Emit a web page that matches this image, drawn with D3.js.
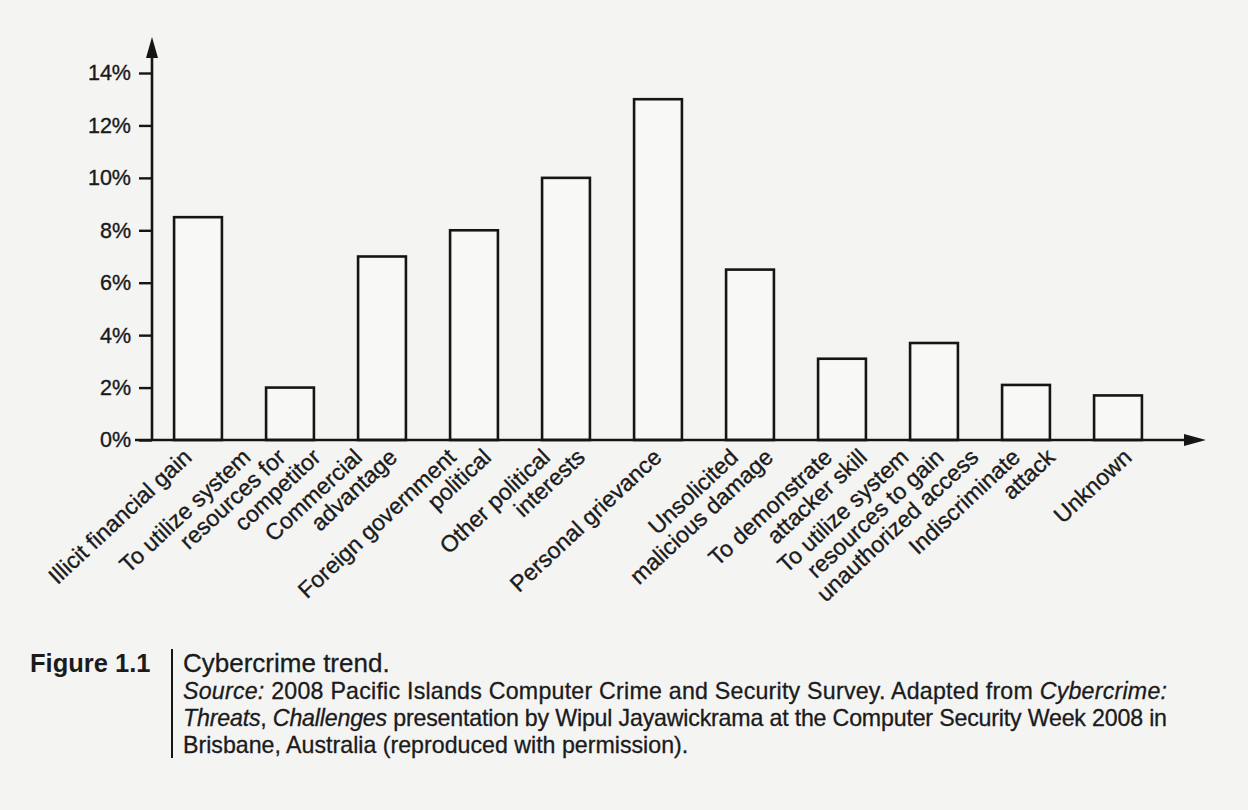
<!DOCTYPE html>
<html>
<head>
<meta charset="utf-8">
<script src="https://cdn.jsdelivr.net/npm/d3@7"></script>
<style>
  html, body { margin: 0; padding: 0; background: #f4f4f3; }
  svg { display: block; }
  text { font-family: "Liberation Sans", Arial, Helvetica, sans-serif; fill: #1b1b1b; }
</style>
</head>
<body>
<svg id="chart"></svg>
<script>
// categories (line breaks as in the figure), percent values, y tick values
const categories = [
  'Illicit financial gain',
  'To utilize system\nresources for\ncompetitor',
  'Commercial\nadvantage',
  'Foreign government\npolitical',
  'Other political\ninterests',
  'Personal grievance',
  'Unsolicited\nmalicious damage',
  'To demonstrate\nattacker skill',
  'To utilize system\nresources to gain\nunauthorized access',
  'Indiscriminate\nattack',
  'Unknown'
];
const values = [8.5, 2.0, 7.0, 8.0, 10.0, 13.0, 6.5, 3.1, 3.7, 2.1, 1.7];
const yTicks = [0, 2, 4, 6, 8, 10, 12, 14];

const W = 1248, H = 810;
const axisX = 152, axisY = 440;
const ink = '#151515';

const svg = d3.select('#chart').attr('width', W).attr('height', H);

svg.append('rect').attr('width', W).attr('height', H).attr('fill', '#f4f4f3');

const x = d3.scaleBand()
  .domain(categories)
  .range([axisX, 1164])
  .paddingInner(0.48)
  .paddingOuter(0.24);

const y = d3.scaleLinear()
  .domain([0, 14])
  .range([axisY, 73]);

// where the rotated labels sit (they drift a little right of the bars in the figure)
const labelX = d3.scalePoint()
  .domain(categories)
  .range([193, 1133]);

// bars
svg.append('g')
  .selectAll('rect')
  .data(values)
  .join('rect')
  .attr('x', (d, i) => x(categories[i]))
  .attr('y', d => y(d))
  .attr('width', x.bandwidth())
  .attr('height', d => axisY - y(d))
  .attr('fill', '#f8f8f7')
  .attr('stroke', ink)
  .attr('stroke-width', 2.6);

// y axis with ticks on the left
const yAxis = d3.axisLeft(y)
  .tickValues(yTicks)
  .tickFormat(d => d + '%')
  .tickSize(13)
  .tickPadding(8);

const gy = svg.append('g')
  .attr('transform', `translate(${axisX},0)`)
  .call(yAxis);
gy.select('.domain').remove();
gy.selectAll('.tick line').attr('stroke', ink).attr('stroke-width', 2.4);
gy.selectAll('.tick text')
  .attr('font-size', 21.5)
  .attr('fill', ink)
  .attr('stroke', ink)
  .attr('stroke-width', 0.35)
  .style('font-family', '"Liberation Sans", Arial, sans-serif');

// axis lines with arrow heads
svg.append('line')
  .attr('x1', axisX).attr('x2', axisX)
  .attr('y1', axisY).attr('y2', 52)
  .attr('stroke', ink).attr('stroke-width', 2.6);
svg.append('path')
  .attr('d', `M${axisX},37 L${axisX - 6},58 L${axisX + 6},58 Z`)
  .attr('fill', ink);

svg.append('line')
  .attr('x1', 135).attr('x2', 1190)
  .attr('y1', axisY).attr('y2', axisY)
  .attr('stroke', ink).attr('stroke-width', 2.6);
svg.append('path')
  .attr('d', `M1206,${axisY} L1184,${axisY - 6} L1184,${axisY + 6} Z`)
  .attr('fill', ink);

// rotated category labels: each line ends on a horizontal line under the axis
const lineStep = 35;
const labels = svg.append('g');
categories.forEach(cat => {
  const lines = cat.split('\n');
  const n = lines.length;
  lines.forEach((t, i) => {
    const ex = labelX(cat) + (i - (n - 1) / 2) * lineStep;
    labels.append('text')
      .attr('transform', `translate(${ex},${axisY + 19}) rotate(-43)`)
      .attr('text-anchor', 'end')
      .attr('font-size', 23)
      .attr('stroke', '#1b1b1b')
      .attr('stroke-width', 0.35)
      .text(t);
  });
});

// caption
const cap = svg.append('g');
cap.append('text')
  .attr('x', 30).attr('y', 672)
  .attr('font-size', 25.5)
  .attr('font-weight', 'bold')
  .text('Figure 1.1');

cap.append('line')
  .attr('x1', 172).attr('x2', 172)
  .attr('y1', 649).attr('y2', 758)
  .attr('stroke', ink).attr('stroke-width', 2);

const capLines = [
  [['Cybercrime trend.', false]],
  [['Source:', true], [' 2008 Pacific Islands Computer Crime and Security Survey. Adapted from ', false], ['Cybercrime:', true]],
  [['Threats', true], [', ', false], ['Challenges', true], [' presentation by Wipul Jayawickrama at the Computer Security Week 2008 in', false]],
  [['Brisbane, Australia (reproduced with permission).', false]]
];
capLines.forEach((parts, i) => {
  const t = cap.append('text')
    .attr('x', 183)
    .attr('y', 672 + i * 27)
    .attr('font-size', i === 0 ? 26 : 23.2)
    .attr('stroke', '#1b1b1b')
    .attr('stroke-width', 0.3);
  // the middle lines are justified in the book
  if (i === 1 || i === 2) t.attr('textLength', 984).attr('lengthAdjust', 'spacing');
  parts.forEach(([s, it]) => {
    t.append('tspan')
      .attr('font-style', it ? 'italic' : 'normal')
      .text(s);
  });
});
</script>
</body>
</html>
